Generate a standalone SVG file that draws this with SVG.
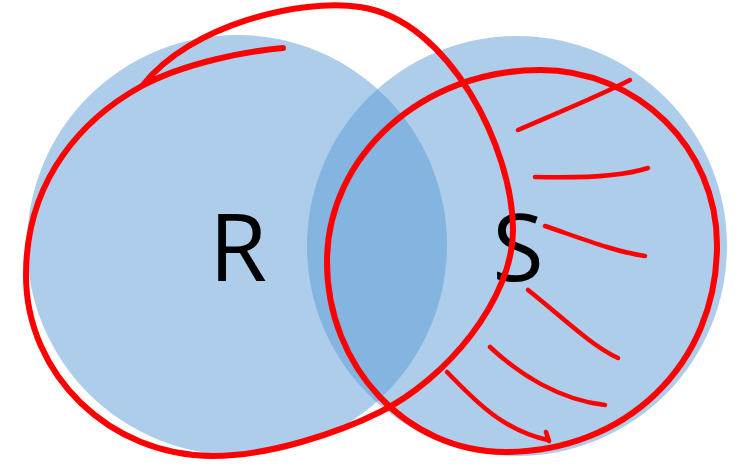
<svg xmlns="http://www.w3.org/2000/svg" width="741" height="464" viewBox="0 0 741 464">
  <style>
    .set { fill: #5B9BD5; fill-opacity: 0.5; }
    .lbl { font-family: "Open Sans", "Liberation Sans", sans-serif; font-size: 94px; fill: #000; text-anchor: middle; }
    .ink { fill: none; stroke: #FF0000; stroke-linecap: round; stroke-linejoin: round; }
    .loop { stroke-width: 6; }
    .hatch { stroke-width: 4.5; }
  </style>
  <rect width="741" height="464" fill="#FFFFFF"/>
  <g id="R">
    <circle class="set" cx="237" cy="245" r="210"/>
    <text class="lbl" x="238" y="281">R</text>
  </g>
  <g id="S">
    <circle class="set" cx="517" cy="246" r="210"/>
    <text class="lbl" x="518" y="281">S</text>
  </g>
  <g id="annotations">
    <path class="ink loop" d="M283,48 C250,51 185,62 140,87 C88,116 26,175 26,275 C26,375 110,456 213,456 C270,456 340,432 380,412 C445,380 513,300 513,230 C513,150 450,20 360,7 C300,-2 190,25 143,85"/>
    <path class="ink loop" d="M540,70 C638,70 717,148 717,245 C717,365 625,452 505,452 C407,452 327,367 327,262 C327,156 422,70 540,70"/>
    <path class="ink hatch" d="M518,130 C545,118 595,98 630,80"/>
    <path class="ink hatch" d="M535,177 C570,178 620,177 648,168"/>
    <path class="ink hatch" d="M545,226 C575,236 615,252 645,256"/>
    <path class="ink hatch" d="M528,290 C560,315 590,345 618,358"/>
    <path class="ink hatch" d="M490,347 C520,375 560,400 605,405"/>
    <path class="ink hatch" d="M447,372 C470,395 500,430 548,440 M546,432 L549,441"/>
  </g>
</svg>
